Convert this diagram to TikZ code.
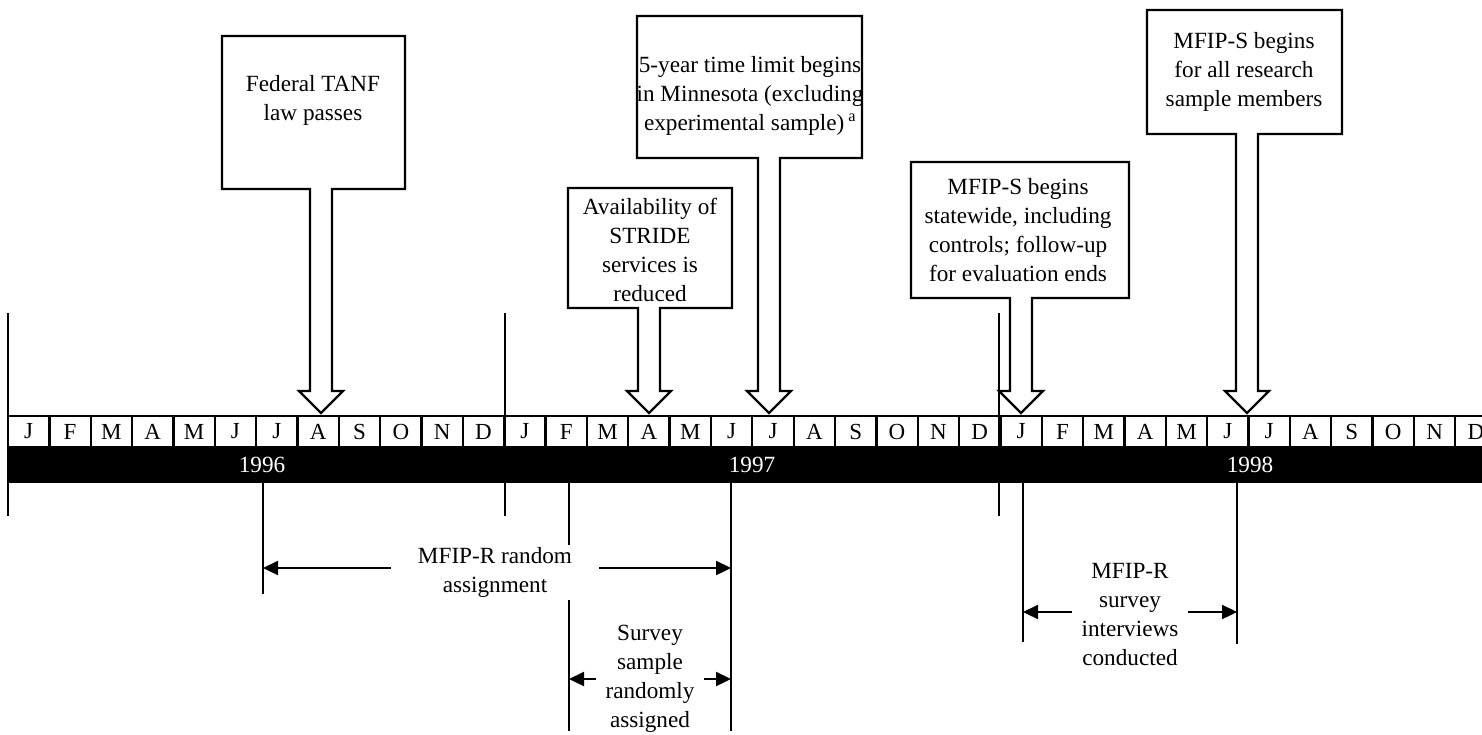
\documentclass[tikz,border=0pt]{standalone}
\usepackage{fontspec}
\setmainfont{Liberation Serif}
\usetikzlibrary{arrows.meta}
\usetikzlibrary{calc}

% outline of a box with a block arrow down to the time line
\newcommand{\eventarrow}[2]{%
  \draw[eventline] let \p1 = (#2), \p2 = (#1.south west), \p3 = (#1.north east) in
    (\x1-11pt,\y2) -- (\p2) -- (\x2,\y3) -- (\p3) -- (\x3,\y2) -- (\x1+11pt,\y2)
    -- (\x1+11pt,\y1+22pt) -- (\x1+22pt,\y1+22pt) -- (\p1) -- (\x1-22pt,\y1+22pt)
    -- (\x1-11pt,\y1+22pt) -- cycle;}

\begin{document}
\begin{tikzpicture}[x=1pt, y=-1pt, line width=2.3pt,
    txt/.style={align=center, inner sep=0pt, font=\fontsize{23.2}{29}\selectfont},
    month/.style={draw, fill=white, inner sep=0pt, outer sep=0pt, minimum width=41.35pt,
      minimum height=31pt, font=\fontsize{23}{29}\selectfont},
    eventbox/.style={inner sep=0pt, outer sep=0pt},
    eventline/.style={draw, fill=white, line join=miter},
    dim/.style={-{Triangle[length=15pt, width=14pt]}}]
  \useasboundingbox (0,0) rectangle (1482,734);
  \clip (0,0) rectangle (1482,734);

  % time line
  \fill (8,447) rectangle (1500,483);
  \foreach \m [count=\i from 0] in {J,F,M,A,M,J,J,A,S,O,N,D,J,F,M,A,M,J,J,A,S,O,N,D,J,F,M,A,M,J,J,A,S,O,N,D}
    \node[month] (m\i) at ({8+41.35*(\i+0.5)}, 431.5) {\m};
  \node[txt, text=white] (y1996) at (262,465) {1996};
  \node[txt, text=white] (y1997) at (752,465) {1997};
  \node[txt, text=white] (y1998) at (1250,465) {1998};
  \foreach \n/\x in {s1996/8, s1997/505, s1998/999} {
    \coordinate (\n top) at (\x,313);
    \coordinate (\n end) at (\x,516);
    \draw (\n top) -- (\n end);
  }

  % events
  \node[eventbox, minimum width=183pt, minimum height=153pt] (tanfbox) at (313.5,112.5) {};
  \coordinate (tanf tip) at (321,413);
  \eventarrow{tanfbox}{tanf tip}
  \node[txt] (tanf) at (313,100) {Federal TANF\\law passes};

  \node[eventbox, minimum width=164pt, minimum height=120pt] (stridebox) at (650,248) {};
  \coordinate (stride tip) at (649,413);
  \eventarrow{stridebox}{stride tip}
  \node[txt] (stride) at (650,250) {Availability of\\STRIDE\\services is\\reduced};

  \node[eventbox, minimum width=225pt, minimum height=142pt] (limitbox) at (749.5,87) {};
  \coordinate (limit tip) at (769,413);
  \eventarrow{limitbox}{limit tip}
  \node[txt] (limit) at (750,96) {5-year time limit begins\\in Minnesota (excluding\\experimental sample)\,\textsuperscript{a}};

  \node[eventbox, minimum width=218pt, minimum height=136pt] (statebox) at (1020,230) {};
  \coordinate (state tip) at (1021,413);
  \eventarrow{statebox}{state tip}
  \node[txt] (state) at (1018,230) {MFIP-S begins\\statewide, including\\controls; follow-up\\for evaluation ends};

  \node[eventbox, minimum width=195pt, minimum height=124pt] (allbox) at (1244.5,72) {};
  \coordinate (all tip) at (1247,413);
  \eventarrow{allbox}{all tip}
  \node[txt] (all) at (1244,72) {MFIP-S begins\\for all research\\sample members};

  % periods below the time line
  \foreach \n/\x/\e in {ra1/263/594, ra2/731/731, ss1/569/731, si1/1023/642, si2/1237/644} {
    \coordinate (\n top) at (\x,483);
    \coordinate (\n end) at (\x,\e);
    \draw (\n top) -- (\n end);
  }
  \coordinate (ra left) at (263,568);
  \coordinate (ra right) at (731,568);
  \node[txt, fill=white, minimum width=206pt, minimum height=55pt] (assign) at (495,572) {MFIP-R random\\assignment};
  \draw[dim] (assign.west |- ra left) -- (ra left);
  \draw[dim] (assign.east |- ra right) -- (ra right);

  \coordinate (ss left) at (569,679);
  \coordinate (ss right) at (731,679);
  \node[txt, minimum width=106pt] (survey) at (650,679) {Survey\\sample\\randomly\\assigned};
  \draw[dim] (survey.west |- ss left) -- (ss left);
  \draw[dim] (survey.east |- ss right) -- (ss right);

  \coordinate (si left) at (1023,612);
  \coordinate (si right) at (1237,612);
  \node[txt, minimum width=114pt] (interviews) at (1130,615) {MFIP-R\\survey\\interviews\\conducted};
  \draw[dim] (interviews.west |- si left) -- (si left);
  \draw[dim] (interviews.east |- si right) -- (si right);
\end{tikzpicture}
\end{document}
